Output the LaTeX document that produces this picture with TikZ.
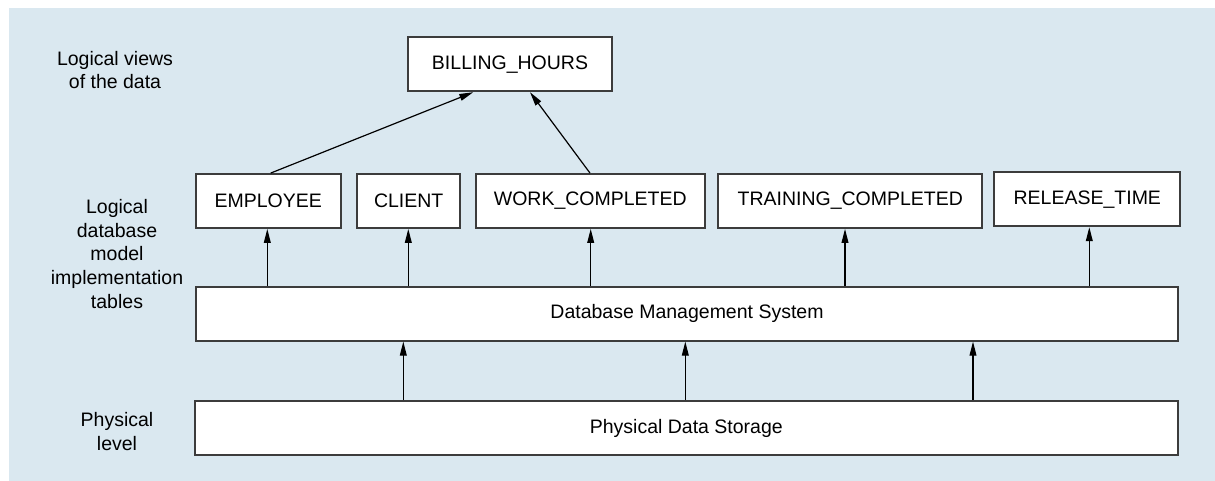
\documentclass[tikz,border=0pt]{standalone}
\usepackage{fontspec}
\setmainfont{Liberation Sans}
\usetikzlibrary{arrows.meta}
\definecolor{bgblue}{RGB}{218,232,240}
\definecolor{boxline}{RGB}{60,60,60}
\begin{document}
\begin{tikzpicture}[x=0.5pt,y=-0.5pt,
  every node/.style={font=\fontsize{9.75}{11.85}\selectfont, inner sep=0pt},
  tbl/.style={draw=boxline, line width=0.9pt, fill=white, minimum height=27pt},
  lbl/.style={align=center},
  arr/.style={line width=0.6pt, -{Triangle[length=7pt,width=3.4pt]}}]
\useasboundingbox (0,0) rectangle (1215,481);
\fill[bgblue] (9,8) rectangle (1215,481);
% left labels
\node[lbl] (l1) at (115,70) {Logical views\\of the data};
\node[lbl] (l2) at (117,254) {Logical\\database\\model\\implementation\\tables};
\node[lbl] (l3) at (117,431.5) {Physical\\level};
% boxes
\node[tbl, minimum width=102pt] (bill) at (510,64.3) {BILLING\_HOURS};
\node[tbl, minimum width=72.5pt] (emp) at (268.2,201) {EMPLOYEE};
\node[tbl, minimum width=51.6pt] (cli) at (408.7,201) {CLIENT};
\node[tbl, minimum width=114.6pt] (work) at (590.3,201) {WORK\_COMPLETED};
\node[tbl, minimum width=132pt] (train) at (850.3,201) {TRAINING\_COMPLETED};
\node[tbl, minimum width=93pt] (rel) at (1087.3,199.3) {RELEASE\_TIME};
\node[tbl, minimum width=491pt] (dbms) at (687,313.7) {Database Management System};
\node[tbl, minimum width=491.7pt] (pds) at (686.3,428) {Physical Data Storage};
% x positions of connectors
\coordinate (xa) at (267.3,0);
\coordinate (xb) at (408.3,0);
\coordinate (xc) at (590.7,0);
\coordinate (xd) at (845,0);
\coordinate (xe) at (1089.3,0);
\coordinate (xf) at (403.3,0);
\coordinate (xg) at (685.3,0);
\coordinate (xh) at (973,0);
\coordinate (xi) at (270.7,0);
\coordinate (xj) at (473.3,0);
\coordinate (xk) at (590,0);
\coordinate (xl) at (530,0);
% connectors
\draw[arr] (emp.north -| xi) -- (bill.south -| xj);
\draw[arr] (work.north -| xk) -- (bill.south -| xl);
\draw[arr] (dbms.north -| xa) -- (emp.south -| xa);
\draw[arr] (dbms.north -| xb) -- (cli.south -| xb);
\draw[arr] (dbms.north -| xc) -- (work.south -| xc);
\draw[arr] (dbms.north -| xd) -- (train.south -| xd);
\draw[arr] (dbms.north -| xe) -- (rel.south -| xe);
\draw[arr] (pds.north -| xf) -- (dbms.south -| xf);
\draw[arr] (pds.north -| xg) -- (dbms.south -| xg);
\draw[arr] (pds.north -| xh) -- (dbms.south -| xh);
\end{tikzpicture}
\end{document}
